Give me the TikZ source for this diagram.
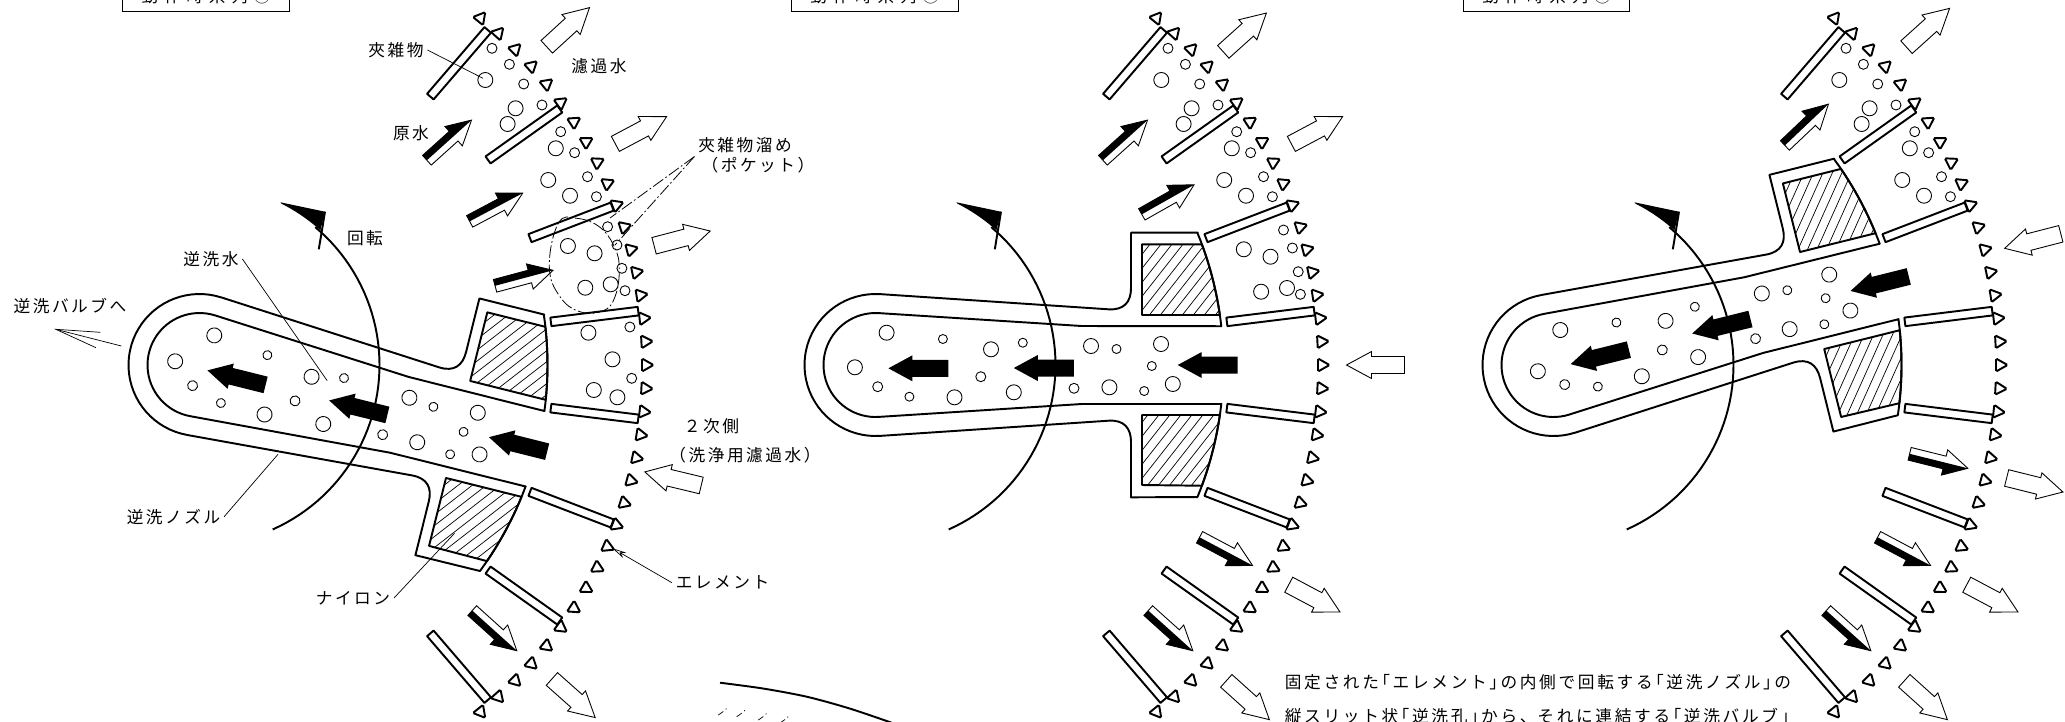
\documentclass[tikz,border=0pt]{standalone}
\usepackage{fontspec}
\usepackage{tikz}
\usetikzlibrary{arrows.meta}

\newfontfamily\cjk[LetterSpace=15]{Noto Sans CJK JP}
\newfontfamily\cjkwide[LetterSpace=34]{Noto Sans CJK JP}
\newfontfamily\cjknote[LetterSpace=16,RawFeature={+halt}]{Noto Sans CJK JP}

\def\cx{199.5}
\def\cy{365}

% particles, outside the nozzle
\def\dirtA{492/48.3/5,509.4/64.3/5,485.3/80/7.5,523.7/84/5,542/105/5,515.6/108.3/7.5,507.6/124/7.5,560.7/131.7/5,555.8/148.3/7.5,574.6/152.7/5,548.2/180/7.5,570/195.7/7.5,587.5/176.7/5,596.4/196.7/5}
% particles, inside the nozzle
\def\dirtN{210.6/332.7/7.5,266.9/339/4.5,315/349.3/7.5,346.8/342.7/4.5,415/346/7.5,440.5/349/4.5,485/344/7.5,178.9/367.3/7.5,475.8/366/4.5,201.7/386.7/5,304.8/376.7/5,233.4/396.7/4.5,278.5/397.3/7.5,337.8/392.3/7.5,398/388.3/5,433.4/387.3/7.5,468.2/391/4.5,496.8/384/7.5}

\tikzset{
  heavy/.style={line width=1.1pt, line join=round},
  thinline/.style={line width=.5pt},
  hatchline/.style={line width=.4pt},
  leader/.style={line width=.4pt},
  pocketline/.style={line width=.45pt, dash pattern=on 7pt off 1.5pt on 1pt off 1.5pt},
  lbl/.style={inner sep=2pt, font=\cjk\fontsize{9.5}{12}\selectfont},
  headbox/.style={draw, thinline, minimum width=3.33cm, minimum height=.62cm, inner sep=0pt, font=\cjkwide\fontsize{9.5}{12}\selectfont},
  wirewedge/.pic={
    \draw[line width=1.1pt, rounded corners=.8pt] (-4.5,-6.5) -- (7,0) -- (-4.5,6.5) -- cycle;
  },
  whitearrow/.pic={
    \draw[thinline, fill=white] (0,-8.5) -- (33,-8.5) -- (33,-13.5) -- (58,0) -- (33,13.5) -- (33,8.5) -- (0,8.5) -- cycle;
  },
  flowarrow/.pic={
    \draw[thinline, fill=white] (0,-6.5) -- (36,-6.5) -- (36,-13) -- (60,0) -- (36,13) -- (36,6.5) -- (0,6.5) -- cycle;
    \fill (0,-6.5) -- (36,-6.5) -- (36,-13) -- (60,0) -- (0,0) -- cycle;
  },
  flushmark/.pic={
    \fill (0,0) -- (24,-13) -- (24,-8.5) -- (60,-8.5) -- (60,8.5) -- (24,8.5) -- (24,13) -- cycle;
  }
}

% element ring, slit tubes and rotation arrow
\newcommand{\screenring}{
  \foreach \i in {-17,...,17}
    \pic[rotate=3*\i] at ({\cx+447*cos(3*\i)},{\cy-447*sin(3*\i)}) {wirewedge};
  \foreach \a in {49.3,35.4,21,7,-7,-21,-35.4,-49.3}
    \draw[heavy, rotate around={\a:(\cx,\cy)}] (553.5,360.7) rectangle (641.5,369.3);
  \draw[heavy] plot[domain=-66:50,samples=50] ({\cx+180*cos(\x)},{\cy-180*sin(\x)});
  \fill (280.4,202.3) -- (325,211.7) -- (320.5,230) -- plot[domain=48:63,samples=10] ({\cx+181*cos(\x)},{\cy-181*sin(\x)}) -- cycle;
  \draw[heavy] (325,211.7) -- (318.8,249.3);
}

\newcommand{\nylonblock}[4]{
  \begin{scope}
    \clip (466,#1) -- plot[domain=#3:#4,samples=12] ({\cx+348*cos(\x)},{\cy-348*sin(\x)}) -- (466,#2) -- cycle;
    \foreach \h in {240,251,...,560}
      \draw[hatchline] (\h,500) -- ++(220,-280);
  \end{scope}
  \draw[heavy] (466,#1) -- plot[domain=#3:#4,samples=12] ({\cx+348*cos(\x)},{\cy-348*sin(\x)}) -- (466,#2) -- cycle;
}

% nozzle, turned about the ring centre
\newcommand{\nozzlebody}[1]{
  \begin{scope}[rotate around={#1:(\cx,\cy)}]
    \draw[heavy] (204,294.1) -- (432.5,309.3) .. controls (448,310.3) and (455,302) .. (455,288)
      -- (455,232.7) -- (521.8,232.7)
      -- plot[domain=22.3:6.4,samples=12] ({\cx+348*cos(\x)},{\cy-348*sin(\x)})
      -- (405.7,326) -- (202.8,313.1)
      -- plot[domain=86.4:273.6,samples=40] ({\cx+52*cos(\x)},{\cy-52*sin(\x)})
      -- (405.7,404) -- (545.4,404)
      -- plot[domain=-6.4:-22.3,samples=12] ({\cx+348*cos(\x)},{\cy-348*sin(\x)})
      -- (455,497.3) -- (455,442) .. controls (455,428) and (448,419.7) .. (432.5,420.7)
      -- (204,435.9)
      -- plot[domain=273.6:86.4,samples=40] ({\cx+71*cos(\x)},{\cy-71*sin(\x)}) -- cycle;
    \nylonblock{244.3}{315}{20.3}{8.26}
    \nylonblock{415}{485}{-8.26}{-20.3}
    \begin{scope}[shift={({#1*.28},0)}]
      \foreach \px/\py/\pr in \dirtN
        \draw[thinline] (\px,\py) circle[radius=\pr];
      \pic[transform shape] at (212.4,368.3) {flushmark};
      \pic[transform shape] at (337.8,368) {flushmark};
      \pic[transform shape] at (501.7,365) {flushmark};
    \end{scope}
  \end{scope}
}

\begin{document}
\begin{tikzpicture}[x=.02cm, y=-.02cm]
  \useasboundingbox (0,0) rectangle (2065,721);
  \clip (0,0) rectangle (2065,721);

  % 1
  \node[headbox] (head1) at (206,-4) {動作時系列①};
  \screenring
  \nozzlebody{-14}
  \foreach \px/\py/\pr in \dirtA
    \draw[thinline] (\px,\py) circle[radius=\pr];
  \foreach \px/\py/\pr in {607.6/226.7/5,567.9/246/7.5,594.6/253.3/7.5,617/245/5,621.9/268.3/5,585.3/287.7/7.5,610.7/284.3/7.5,625/290.7/5,588.4/332.7/7.5,629.9/327/5,612.5/359.3/7.5,631.7/378.3/5,593.8/390/7.5,617.4/397.3/7.5}
    \draw[thinline] (\px,\py) circle[radius=\pr];
  \foreach \a/\r/\d in {42.5/471/0,28/471/0,14.7/470/0,-41.7/472/0,-13.5/516/180}
    \pic[rotate=\a+\d] at ({\cx+\r*cos(\a)},{\cy-\r*sin(\a)}) {whitearrow};
  \foreach \a in {42,28,15}
    \pic[rotate=\a] at ({\cx+306*cos(\a)},{\cy-306*sin(\a)}) {flowarrow};
  \pic[rotate=-42,yscale=-1] at ({\cx+367*cos(-42)},{\cy-367*sin(-42)}) {flowarrow};

  % pocket
  \draw[pocketline] plot[smooth cycle,tension=.7] coordinates {(549.3,266.7) (558.3,223.3) (576.7,218.3) (600,227.3) (615,248.3) (619.3,270) (615,296.7) (603.3,310.7) (580,311.7) (560,296.7)};

  % labels
  \node[lbl] (inclusion) at (396,50) {夾雑物};
  \node[lbl] (filtrate) at (599,65.7) {濾過水};
  \node[lbl] (rawwater) at (411,133) {原水};
  \node[lbl] (rotation) at (365,238) {回転};
  \node[lbl] (backwater) at (211,259) {逆洗水};
  \node[lbl] (tovalve) at (70,306) {逆洗バルブへ};
  \node[lbl] (pocket) at (745,145) {夾雑物溜め};
  \node[lbl] (pocket2) at (758,165) {（ポケット）};
  \node[lbl] (second) at (711.5,426) {２次側};
  \node[lbl] (second2) at (745,455) {（洗浄用濾過水）};
  \node[lbl] (element) at (722.5,582.7) {エレメント};
  \node[lbl] (nozzle) at (173.5,516.7) {逆洗ノズル};
  \node[lbl] (nylon) at (353,598) {ナイロン};

  \coordinate (inclusionEnd) at (483,78.3);
  \coordinate (backwaterEnd) at (327.2,380.7);
  \coordinate (nozzleEnd) at (278,454.3);
  \coordinate (nylonEnd) at (454.5,533.3);
  \coordinate (elementEnd) at (612.5,548.3);
  \coordinate (pocketEndA) at (610,218);
  \coordinate (pocketEndB) at (615,245);
  \coordinate (valveTip) at (55.8,329.3);
  \coordinate (valveA) at (100.4,332.3);
  \coordinate (valveB) at (96,347.7);
  \coordinate (valveC) at (121.4,346);

  \draw[leader] (inclusion.east) -- (inclusionEnd);
  \draw[leader] (backwater.east) -- (backwaterEnd);
  \draw[leader] (nozzle.east) -- (nozzleEnd);
  \draw[leader] (nylon.east) -- (nylonEnd);
  \draw[leader, -{Stealth[open,length=8pt,width=3.5pt]}] (element.west) -- (elementEnd);
  \draw[leader] (valveA) -- (valveTip) -- (valveB);
  \draw[leader] (valveC) -- (valveTip);
  \draw[pocketline] (pocket.south west) -- (pocketEndA);
  \draw[pocketline] (pocket.south west) -- (pocketEndB);

  % 2
  \node[headbox] (head2) at (874.7,-4) {動作時系列②};
  \begin{scope}[shift={(676,0)}]
    \screenring
    \nozzlebody{0}
    \foreach \px/\py/\pr in \dirtA
      \draw[thinline] (\px,\py) circle[radius=\pr];
    \foreach \px/\py/\pr in {607.5/230/5,567.8/249.3/7.5,594.5/256.7/7.5,616.4/248/5,622.2/271.7/5,585.1/291.7/7.5,611/288/7.5,624.4/294.3/5}
      \draw[thinline] (\px,\py) circle[radius=\pr];
    \foreach \a/\r/\d in {42/468/0,28/471/0,-28/468/0,-42/472/0,0/529/180}
      \pic[rotate=\a+\d] at ({\cx+\r*cos(\a)},{\cy-\r*sin(\a)}) {whitearrow};
    \foreach \a in {42,29.5}
      \pic[rotate=\a] at ({\cx+306*cos(\a)},{\cy-306*sin(\a)}) {flowarrow};
    \foreach \a in {-28,-42}
      \pic[rotate=\a,yscale=-1] at ({\cx+367*cos(\a)},{\cy-367*sin(\a)}) {flowarrow};
  \end{scope}

  % 3
  \node[headbox] (head3) at (1546.5,-4) {動作時系列③};
  \begin{scope}[shift={(1354,0)}]
    \screenring
    \nozzlebody{14}
    \foreach \px/\py/\pr in \dirtA
      \draw[thinline] (\px,\py) circle[radius=\pr];
    \foreach \a/\r/\d in {42/475/0,-14/467/0,-28/468/0,-42/472/0,14.5/524/180}
      \pic[rotate=\a+\d] at ({\cx+\r*cos(\a)},{\cy-\r*sin(\a)}) {whitearrow};
    \pic[rotate=43.5] at ({\cx+319*cos(43.5)},{\cy-319*sin(43.5)}) {flowarrow};
    \foreach \a in {-14,-28,-42}
      \pic[rotate=\a,yscale=-1] at ({\cx+367*cos(\a)},{\cy-367*sin(\a)}) {flowarrow};
  \end{scope}

  % next figure, cut off at the edge
  \draw[heavy] plot[smooth] coordinates {(720,682.7) (763,688.5) (806.7,696.7) (848,708) (886.7,721) (900,726)};
  \foreach \mx/\my in {718.3/715,736.7/716.7,758.3/720,780/723}
    \draw[leader] (\mx,\my) -- ++(5,-3.5) ++(2.5,-2) -- ++(.5,-1);

  \node[lbl, anchor=west, font=\cjknote\fontsize{9.5}{12}\selectfont] (note1) at (1281,681.7) {固定された「エレメント」の内側で回転する「逆洗ノズル」の};
  \node[lbl, anchor=west, font=\cjknote\fontsize{9.5}{12}\selectfont] (note2) at (1281,716.5) {縦スリット状「逆洗孔」から、\hspace{.55em}それに連結する「逆洗バルブ」};
\end{tikzpicture}
\end{document}
